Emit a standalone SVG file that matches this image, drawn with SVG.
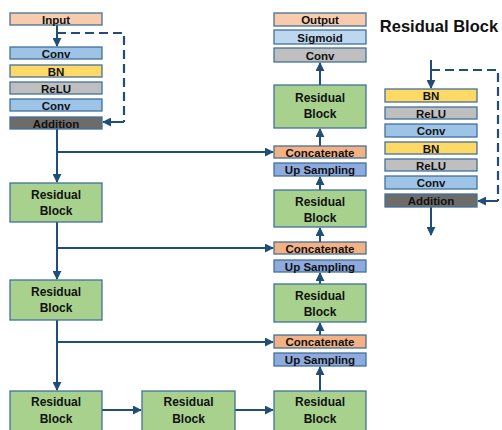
<svg xmlns="http://www.w3.org/2000/svg" width="502" height="430" viewBox="0 0 502 430">
<style>
.b{stroke:#41719C;stroke-width:1.3}
.t{font-family:"Liberation Sans",Arial,sans-serif;font-weight:bold;font-size:11.5px;fill:#111;text-anchor:middle;dominant-baseline:central}
.r{font-size:12px}
.rb{fill:#A9D18E}
.pe{fill:#F8CBAD}
.co{fill:#F4B183}
.cv{fill:#9DC3E6}
.bn{fill:#FFD966}
.re{fill:#BFBFBF}
.ad{fill:#6E6B6B}
.sg{fill:#BDD7EE}
.up{fill:#8FAADC}
.l{fill:none;stroke:#1F4E79;stroke-width:2}
.d{fill:none;stroke:#1F4E79;stroke-width:2.2;stroke-dasharray:9 5}
</style>
<defs>
<marker id="a" viewBox="0 0 10 10" refX="9" refY="5" markerWidth="4.5" markerHeight="4.5" orient="auto"><path d="M0,0L10,5L0,10z" fill="#1F4E79"/></marker>
</defs>
<rect width="502" height="430" fill="#fff"/>
<g id="connectors">
<path class="l" d="M57,25V46" marker-end="url(#a)"/>
<path class="d" d="M57,33H124V122"/>
<path class="l" d="M124,122H103" marker-end="url(#a)"/>
<path class="l" d="M57,129V182" marker-end="url(#a)"/>
<path class="l" d="M57,152H273" marker-end="url(#a)"/>
<path class="l" d="M57,222V279" marker-end="url(#a)"/>
<path class="l" d="M57,248H273" marker-end="url(#a)"/>
<path class="l" d="M57,320V390" marker-end="url(#a)"/>
<path class="l" d="M57,342H273" marker-end="url(#a)"/>
<path class="l" d="M102,410H141" marker-end="url(#a)"/>
<path class="l" d="M235,410H273" marker-end="url(#a)"/>
<path class="l" d="M320,391V367" marker-end="url(#a)"/>
<path class="l" d="M320,335V323" marker-end="url(#a)"/>
<path class="l" d="M320,284V273" marker-end="url(#a)"/>
<path class="l" d="M320,243V228" marker-end="url(#a)"/>
<path class="l" d="M320,190V177" marker-end="url(#a)"/>
<path class="l" d="M320,147V129" marker-end="url(#a)"/>
<path class="l" d="M320,85V63" marker-end="url(#a)"/>
<path class="l" d="M431,60V88" marker-end="url(#a)"/>
<path class="d" d="M431,70H498V201"/>
<path class="l" d="M498,201H478" marker-end="url(#a)"/>
<path class="l" d="M431,207V235" marker-end="url(#a)"/>
</g>
<g id="input"><rect class="b pe" x="10" y="13" width="92" height="12"/><text class="t" x="56" y="19.5">Input</text></g>
<g id="conv1"><rect class="b cv" x="10" y="47" width="92" height="12"/><text class="t" x="56" y="53.5">Conv</text></g>
<g id="bn1"><rect class="b bn" x="10" y="65" width="92" height="12"/><text class="t" x="56" y="71.5">BN</text></g>
<g id="relu1"><rect class="b re" x="10" y="82" width="92" height="12"/><text class="t" x="56" y="88.5">ReLU</text></g>
<g id="conv2"><rect class="b cv" x="10" y="99" width="92" height="12"/><text class="t" x="56" y="105.5">Conv</text></g>
<g id="add1"><rect class="b ad" x="10" y="117" width="92" height="12"/><text class="t" x="56" y="123.5">Addition</text></g>
<g id="rb1"><rect class="b rb" x="10" y="183" width="92" height="39"/><text class="t r" x="56" y="195">Residual</text><text class="t r" x="56" y="211">Block</text></g>
<g id="rb2"><rect class="b rb" x="10" y="280" width="92" height="40"/><text class="t r" x="56" y="292">Residual</text><text class="t r" x="56" y="308">Block</text></g>
<g id="rb3"><rect class="b rb" x="10" y="391" width="92" height="42"/><text class="t r" x="56" y="402">Residual</text><text class="t r" x="56" y="419">Block</text></g>
<g id="rb4"><rect class="b rb" x="142" y="391" width="93" height="42"/><text class="t r" x="188.5" y="402">Residual</text><text class="t r" x="188.5" y="419">Block</text></g>
<g id="rb5"><rect class="b rb" x="274" y="391" width="92" height="42"/><text class="t r" x="320" y="402">Residual</text><text class="t r" x="320" y="419">Block</text></g>
<g id="up3"><rect class="b up" x="274" y="353" width="92" height="13"/><text class="t" x="320" y="360">Up Sampling</text></g>
<g id="cat3"><rect class="b co" x="274" y="335" width="92" height="13"/><text class="t" x="320" y="342">Concatenate</text></g>
<g id="rb6"><rect class="b rb" x="274" y="284" width="92" height="38"/><text class="t r" x="320" y="296">Residual</text><text class="t r" x="320" y="312">Block</text></g>
<g id="up2"><rect class="b up" x="274" y="260" width="92" height="12"/><text class="t" x="320" y="266.5">Up Sampling</text></g>
<g id="cat2"><rect class="b co" x="274" y="242" width="92" height="12"/><text class="t" x="320" y="248.5">Concatenate</text></g>
<g id="rb7"><rect class="b rb" x="274" y="190" width="92" height="37"/><text class="t r" x="320" y="202">Residual</text><text class="t r" x="320" y="218">Block</text></g>
<g id="up1"><rect class="b up" x="274" y="163" width="92" height="13"/><text class="t" x="320" y="170">Up Sampling</text></g>
<g id="cat1"><rect class="b co" x="274" y="146" width="92" height="12"/><text class="t" x="320" y="152.5">Concatenate</text></g>
<g id="rb8"><rect class="b rb" x="274" y="85" width="92" height="43"/><text class="t r" x="320" y="98">Residual</text><text class="t r" x="320" y="114">Block</text></g>
<g id="conv3"><rect class="b re" x="274" y="48" width="92" height="14"/><text class="t" x="320" y="55.5">Conv</text></g>
<g id="sigmoid"><rect class="b sg" x="274" y="30" width="92" height="14"/><text class="t" x="320" y="37.5">Sigmoid</text></g>
<g id="output"><rect class="b pe" x="274" y="13" width="92" height="13"/><text class="t" x="320" y="19.5">Output</text></g>
<g id="legend">
<text class="t" x="439" y="26" style="font-size:16.5px">Residual Block</text>
<g id="lbn1"><rect class="b bn" x="385" y="89" width="92" height="13"/><text class="t" x="431" y="96">BN</text></g>
<g id="lrelu1"><rect class="b re" x="385" y="107" width="92" height="12"/><text class="t" x="431" y="113.5">ReLU</text></g>
<g id="lconv1"><rect class="b cv" x="385" y="124" width="92" height="13"/><text class="t" x="431" y="131">Conv</text></g>
<g id="lbn2"><rect class="b bn" x="385" y="142" width="92" height="12"/><text class="t" x="431" y="148.5">BN</text></g>
<g id="lrelu2"><rect class="b re" x="385" y="159" width="92" height="12"/><text class="t" x="431" y="165.5">ReLU</text></g>
<g id="lconv2"><rect class="b cv" x="385" y="176" width="92" height="13"/><text class="t" x="431" y="183">Conv</text></g>
<g id="ladd"><rect class="b ad" x="385" y="194" width="92" height="13"/><text class="t" x="431" y="201">Addition</text></g>
</g>
</svg>
